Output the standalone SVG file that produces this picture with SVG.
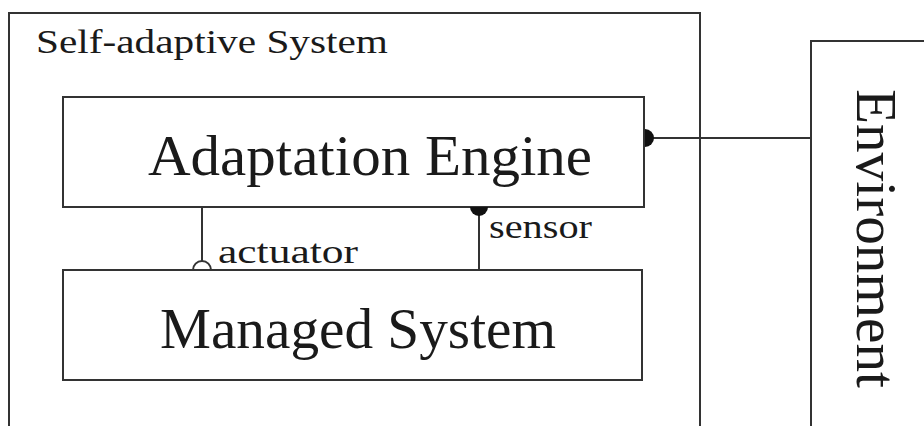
<svg xmlns="http://www.w3.org/2000/svg" width="924" height="426" viewBox="0 0 924 426">
<style>
.box{fill:none;stroke:#333;stroke-width:2}
.ln{fill:none;stroke:#333;stroke-width:2}
.t{font-family:"Liberation Serif","Times New Roman",serif;fill:#1a1a1a}
.big{font-size:58px}
.sm{font-size:34px}
</style>
<rect width="924" height="426" fill="#fff"/>
<g id="self-adaptive-system">
<rect class="box" x="9" y="13" width="691" height="430"/>
<text class="t sm" x="36" y="53" textLength="352" lengthAdjust="spacingAndGlyphs">Self-adaptive System</text>
</g>
<g id="environment">
<rect class="box" x="811" y="41" width="130" height="400"/>
<text class="t big" transform="translate(857,89) rotate(90)" textLength="299" lengthAdjust="spacingAndGlyphs">Environment</text>
</g>
<g id="adaptation-engine">
<rect class="box" x="63" y="97" width="581" height="110"/>
<text class="t big" x="148" y="175" textLength="444" lengthAdjust="spacingAndGlyphs">Adaptation Engine</text>
</g>
<g id="managed-system">
<rect class="box" x="63" y="270" width="579" height="110"/>
<text class="t big" x="160" y="348" textLength="396" lengthAdjust="spacingAndGlyphs">Managed System</text>
</g>
<g id="connectors">
<line class="ln" x1="645" y1="138" x2="811" y2="138"/>
<path d="M645,129 A9,9 0 0 1 645,147 Z" fill="#111"/>
<line class="ln" x1="479" y1="207" x2="479" y2="270"/>
<path d="M470,207 A9,9 0 0 0 488,207 Z" fill="#111"/>
<line class="ln" x1="202" y1="207" x2="202" y2="261"/>
<path class="ln" d="M193,270 A9,9 0 0 1 211,270" fill="#fff"/>
<text class="t sm" x="489" y="238" textLength="103" lengthAdjust="spacingAndGlyphs">sensor</text>
<text class="t sm" x="218" y="263" textLength="140" lengthAdjust="spacingAndGlyphs">actuator</text>
</g>
</svg>
